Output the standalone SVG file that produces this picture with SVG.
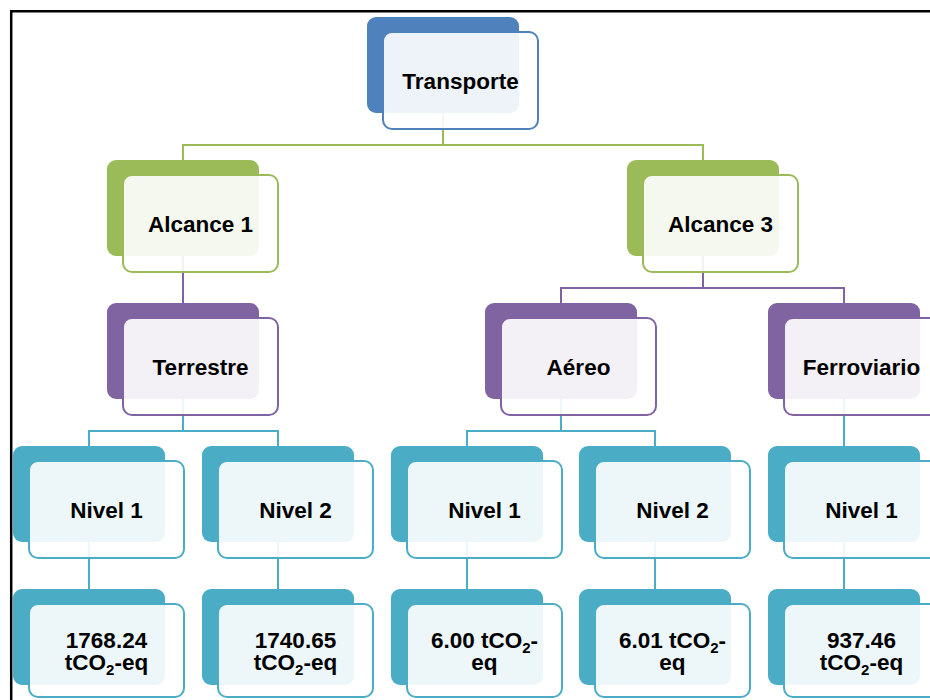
<svg xmlns="http://www.w3.org/2000/svg" width="930" height="700" viewBox="0 0 930 700">
  <style>
    .frame { fill: none; stroke: #000; stroke-width: 2.5; }
    .conn { fill: none; stroke-width: 2; }
    .back { stroke: none; }
    .front { fill: #fff; fill-opacity: 0.9; stroke-width: 2; }
    .lbl { font-family: "Liberation Sans", Arial, sans-serif; font-weight: bold; font-size: 22.5px; fill: #000; text-anchor: middle; }
    .sub { font-size: 15px; }
    .blue .back { fill: #4F81BD; } .blue .front { stroke: #4F81BD; }
    .green .back { fill: #9BBB59; } .green .front { stroke: #9BBB59; }
    .purple .back { fill: #8064A2; } .purple .front { stroke: #8064A2; }
    .teal .back { fill: #4BACC6; } .teal .front { stroke: #4BACC6; }
  </style>
  <defs>
    <!-- shared node shape: solid tab behind, outlined card in front; paint comes from the <use> -->
    <rect id="backShape" x="0" y="0" width="152" height="96" rx="9"/>
    <rect id="frontShape" x="16" y="15" width="155" height="97" rx="9"/>
    <!-- bottom row card is a little shorter so it fits inside the page -->
    <rect id="frontShapeLow" x="16" y="15" width="155" height="93" rx="9"/>
  </defs>

  <rect width="930" height="700" fill="#fff"/>
  <path class="frame" d="M11.2 700V11.2H930"/>

  <g id="connectors">
    <path class="conn" stroke="#9BBB59" d="M443 113V145M183 160V145H703V160"/>
    <path class="conn" stroke="#8064A2" d="M183 256V303M703 256V288M561 303V288H844V303"/>
    <path class="conn" stroke="#4BACC6" d="M183 399V431M89 446V431H278V446M561 399V431M467 446V431H655V446M844 399V446"/>
    <path class="conn" stroke="#4BACC6" d="M89 542V589M278 542V589M467 542V589M655 542V589M844 542V589"/>
  </g>

  <g id="transporte" class="blue" transform="translate(367,17)">
    <use href="#backShape" class="back"/><use href="#frontShape" class="front"/>
    <text class="lbl" x="93.5" y="71.5">Transporte</text>
  </g>

  <g id="alcance1" class="green" transform="translate(107,160)">
    <use href="#backShape" class="back"/><use href="#frontShape" class="front"/>
    <text class="lbl" x="93.5" y="71.5">Alcance 1</text>
  </g>
  <g id="alcance3" class="green" transform="translate(627,160)">
    <use href="#backShape" class="back"/><use href="#frontShape" class="front"/>
    <text class="lbl" x="93.5" y="71.5">Alcance 3</text>
  </g>

  <g id="terrestre" class="purple" transform="translate(107,303)">
    <use href="#backShape" class="back"/><use href="#frontShape" class="front"/>
    <text class="lbl" x="93.5" y="71.5">Terrestre</text>
  </g>
  <g id="aereo" class="purple" transform="translate(485,303)">
    <use href="#backShape" class="back"/><use href="#frontShape" class="front"/>
    <text class="lbl" x="93.5" y="71.5">Aéreo</text>
  </g>
  <g id="ferroviario" class="purple" transform="translate(768,303)">
    <use href="#backShape" class="back"/><use href="#frontShape" class="front"/>
    <text class="lbl" x="93.5" y="71.5">Ferroviario</text>
  </g>

  <g id="terrestre-nivel1" class="teal" transform="translate(13,446)">
    <use href="#backShape" class="back"/><use href="#frontShape" class="front"/>
    <text class="lbl" x="93.5" y="71.5">Nivel 1</text>
  </g>
  <g id="terrestre-nivel2" class="teal" transform="translate(202,446)">
    <use href="#backShape" class="back"/><use href="#frontShape" class="front"/>
    <text class="lbl" x="93.5" y="71.5">Nivel 2</text>
  </g>
  <g id="aereo-nivel1" class="teal" transform="translate(391,446)">
    <use href="#backShape" class="back"/><use href="#frontShape" class="front"/>
    <text class="lbl" x="93.5" y="71.5">Nivel 1</text>
  </g>
  <g id="aereo-nivel2" class="teal" transform="translate(579,446)">
    <use href="#backShape" class="back"/><use href="#frontShape" class="front"/>
    <text class="lbl" x="93.5" y="71.5">Nivel 2</text>
  </g>
  <g id="ferroviario-nivel1" class="teal" transform="translate(768,446)">
    <use href="#backShape" class="back"/><use href="#frontShape" class="front"/>
    <text class="lbl" x="93.5" y="71.5">Nivel 1</text>
  </g>

  <g id="valor-terrestre-n1" class="teal" transform="translate(13,589)">
    <use href="#backShape" class="back"/><use href="#frontShapeLow" class="front"/>
    <text class="lbl" x="93.5" y="59">1768.24</text>
    <text class="lbl" x="93.5" y="81">tCO<tspan class="sub" dy="5">2</tspan><tspan dy="-5">-eq</tspan></text>
  </g>
  <g id="valor-terrestre-n2" class="teal" transform="translate(202,589)">
    <use href="#backShape" class="back"/><use href="#frontShapeLow" class="front"/>
    <text class="lbl" x="93.5" y="59">1740.65</text>
    <text class="lbl" x="93.5" y="81">tCO<tspan class="sub" dy="5">2</tspan><tspan dy="-5">-eq</tspan></text>
  </g>
  <g id="valor-aereo-n1" class="teal" transform="translate(391,589)">
    <use href="#backShape" class="back"/><use href="#frontShapeLow" class="front"/>
    <text class="lbl" x="93.5" y="59">6.00 tCO<tspan class="sub" dy="5">2</tspan><tspan dy="-5">-</tspan></text>
    <text class="lbl" x="93.5" y="81">eq</text>
  </g>
  <g id="valor-aereo-n2" class="teal" transform="translate(579,589)">
    <use href="#backShape" class="back"/><use href="#frontShapeLow" class="front"/>
    <text class="lbl" x="93.5" y="59">6.01 tCO<tspan class="sub" dy="5">2</tspan><tspan dy="-5">-</tspan></text>
    <text class="lbl" x="93.5" y="81">eq</text>
  </g>
  <g id="valor-ferroviario-n1" class="teal" transform="translate(768,589)">
    <use href="#backShape" class="back"/><use href="#frontShapeLow" class="front"/>
    <text class="lbl" x="93.5" y="59">937.46</text>
    <text class="lbl" x="93.5" y="81">tCO<tspan class="sub" dy="5">2</tspan><tspan dy="-5">-eq</tspan></text>
  </g>
</svg>
